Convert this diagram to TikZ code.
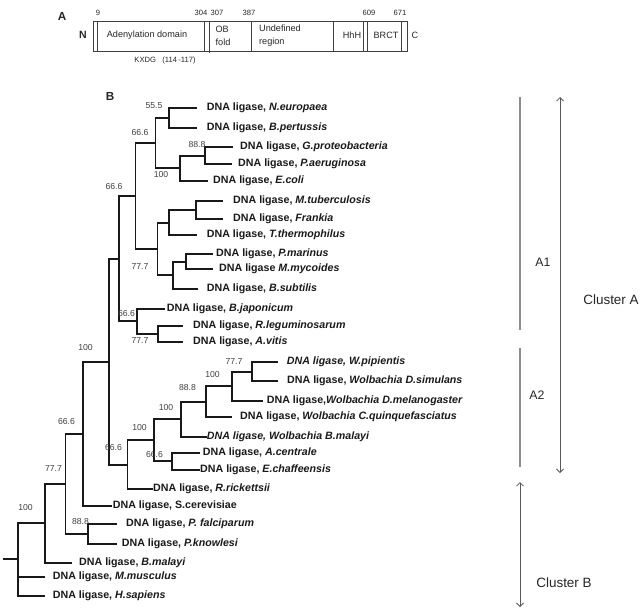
\documentclass[tikz,border=0pt]{standalone}
\usepackage{fontspec}
\setmainfont{Liberation Sans}
\usetikzlibrary{arrows.meta}

\begin{document}
\begin{tikzpicture}[
  x=0.03cm, y=-0.03cm,
  branch/.style={line width=1.7pt, black!90},
  leaf/.style={anchor=west, inner sep=0pt, text=black!90,
    font=\bfseries\fontsize{9.1}{11}\selectfont},
  boot/.style={inner sep=0pt, text=black!75, font=\fontsize{7.4}{9}\selectfont},
  domtxt/.style={inner sep=0pt, text=black!85, align=left,
    font=\fontsize{7.8}{11}\selectfont},
  posnum/.style={inner sep=0pt, text=black!85, font=\fontsize{6.5}{8}\selectfont},
  panel/.style={inner sep=0pt, text=black!85, font=\bfseries\fontsize{10}{12}\selectfont},
  barline/.style={draw=black!75, line width=0.8pt},
  subline/.style={draw=black!45, line width=0.9pt},
  clusterarrow/.style={draw=black!65, line width=0.7pt,
    {Straight Barb[length=3pt,width=6pt]}-{Straight Barb[length=3pt,width=6pt]}},
  clustertxt/.style={inner sep=0pt, text=black!85, font=\fontsize{11.5}{13}\selectfont}
]
  \useasboundingbox (0,0) rectangle (644,610);

  % panel A: domain map
  \node[panel] (lblA) at (62,16) {A};
  \node[panel, font=\bfseries\fontsize{9}{11}\selectfont] (termN) at (83,35) {N};
  \node[domtxt] (termC) at (415,35) {C};
  \draw[barline] (93,21) rectangle (407,51);
  \draw[barline] (97.7,21) -- (97.7,51) (204.3,21) -- (204.3,51)
    (209.3,21) -- (209.3,53) (251,21) -- (251,51) (333.3,21) -- (333.3,51)
    (363.3,21) -- (363.3,51) (367.3,21) -- (367.3,51) (401.7,21) -- (401.7,51);
  \node[posnum] (p9) at (98,13) {9};
  \node[posnum] (p304) at (201,13) {304};
  \node[posnum] (p307) at (217,13) {307};
  \node[posnum] (p387) at (249,13) {387};
  \node[posnum] (p609) at (369,13) {609};
  \node[posnum] (p671) at (400,13) {671};
  \node[domtxt] (adenyl) at (147,35) {Adenylation domain};
  \node[domtxt] (obfold) at (223,35.5) {OB\\fold};
  \node[domtxt] (undef) at (280,35.5) {Undefined\\region};
  \node[domtxt] (hhh) at (352,35) {HhH};
  \node[domtxt] (brct) at (386,35) {BRCT};
  \node[posnum] (motif) at (165,61) {KXDG\ \ \ (114\,-117)};

  % panel B: tree
  \node[panel] (lblB) at (110,96) {B};

  % internal nodes
  \coordinate (root0) at (3.3,559);
  \coordinate (root) at (18.3,559);
  \coordinate (nB) at (45,523);
  \coordinate (nC) at (65.5,484);
  \coordinate (nP) at (88.3,534);
  \coordinate (nD) at (83.3,433.5);
  \coordinate (nE) at (109,361.5);
  \coordinate (nF) at (127.5,464.5);
  \coordinate (nG) at (154,440);
  \coordinate (nI) at (171.7,461.4);
  \coordinate (nH) at (180.7,419);
  \coordinate (nJ) at (205.7,401.5);
  \coordinate (nK) at (231.7,386);
  \coordinate (nL) at (251.7,371.5);
  \coordinate (n11) at (119,258.5);
  \coordinate (n12) at (136.7,321);
  \coordinate (n13) at (158.3,334);
  \coordinate (n10) at (135.5,196);
  \coordinate (n4) at (155.5,143);
  \coordinate (n1) at (169,118);
  \coordinate (n3) at (180,168);
  \coordinate (n2) at (205,155.5);
  \coordinate (n7) at (157.5,249);
  \coordinate (n6) at (169.3,222.5);
  \coordinate (n5) at (196,210);
  \coordinate (n9) at (173,275);
  \coordinate (n8) at (186,261.5);

  % leaf tips
  \coordinate (tNeur) at (196.7,108);
  \coordinate (tBper) at (196.7,128);
  \coordinate (tGpro) at (233,147);
  \coordinate (tPaer) at (232,164);
  \coordinate (tEcol) at (208,181);
  \coordinate (tMtub) at (223,201);
  \coordinate (tFran) at (223,219);
  \coordinate (tTthe) at (197,235);
  \coordinate (tPmar) at (213,254);
  \coordinate (tMmyc) at (213,269);
  \coordinate (tBsub) at (198,289);
  \coordinate (tBjap) at (165,308.5);
  \coordinate (tRleg) at (183.3,326);
  \coordinate (tAvit) at (183.3,342);
  \coordinate (tWpip) at (278.3,362);
  \coordinate (tDsim) at (278.3,381);
  \coordinate (tDmel) at (263,401);
  \coordinate (tCqui) at (231.7,417);
  \coordinate (tWbma) at (206.7,436.5);
  \coordinate (tAcen) at (200,452.7);
  \coordinate (tEcha) at (200,470);
  \coordinate (tRric) at (153,489);
  \coordinate (tScer) at (112,505.5);
  \coordinate (tPfal) at (116.7,524);
  \coordinate (tPkno) at (116.7,544);
  \coordinate (tBmal) at (71.7,563);
  \coordinate (tMmus) at (45,577);
  \coordinate (tHsap) at (45,596);

  % branches
  \draw[branch] (root0) -- (root);
  \draw[branch] (root) |- (nB) (root) |- (tMmus) (root) |- (tHsap);
  \draw[branch] (nB) |- (nC) (nB) |- (tBmal);
  \draw[branch] (nC) |- (nD) (nC) |- (nP);
  \draw[branch] (nP) |- (tPfal) (nP) |- (tPkno);
  \draw[branch] (nD) |- (nE) (nD) |- (tScer);
  \draw[branch] (nE) |- (n11) (nE) |- (nF);
  \draw[branch] (nF) |- (nG) (nF) |- (tRric);
  \draw[branch] (nG) |- (nH) (nG) |- (nI);
  \draw[branch] (nI) |- (tAcen) (nI) |- (tEcha);
  \draw[branch] (nH) |- (nJ) (nH) |- (tWbma);
  \draw[branch] (nJ) |- (nK) (nJ) |- (tCqui);
  \draw[branch] (nK) |- (nL) (nK) |- (tDmel);
  \draw[branch] (nL) |- (tWpip) (nL) |- (tDsim);
  \draw[branch] (n11) |- (n10) (n11) |- (n12);
  \draw[branch] (n12) |- (tBjap) (n12) |- (n13);
  \draw[branch] (n13) |- (tRleg) (n13) |- (tAvit);
  \draw[branch] (n10) |- (n4) (n10) |- (n7);
  \draw[branch] (n4) |- (n1) (n4) |- (n3);
  \draw[branch] (n1) |- (tNeur) (n1) |- (tBper);
  \draw[branch] (n3) |- (n2) (n3) |- (tEcol);
  \draw[branch] (n2) |- (tGpro) (n2) |- (tPaer);
  \draw[branch] (n7) |- (n6) (n7) |- (n9);
  \draw[branch] (n6) |- (n5) (n6) |- (tTthe);
  \draw[branch] (n5) |- (tMtub) (n5) |- (tFran);
  \draw[branch] (n9) |- (n8) (n9) |- (tBsub);
  \draw[branch] (n8) |- (tPmar) (n8) |- (tMmyc);

  % leaf labels
  \node[leaf] (Neur) at (206.7,108) {DNA ligase, \textit{N.europaea}};
  \node[leaf] (Bper) at (206.7,128) {DNA ligase, \textit{B.pertussis}};
  \node[leaf] (Gpro) at (240,147) {DNA ligase, \textit{G.proteobacteria}};
  \node[leaf] (Paer) at (238,164) {DNA ligase, \textit{P.aeruginosa}};
  \node[leaf] (Ecol) at (213,181) {DNA ligase, \textit{E.coli}};
  \node[leaf] (Mtub) at (233,201) {DNA ligase, \textit{M.tuberculosis}};
  \node[leaf] (Fran) at (233,219) {DNA ligase, \textit{Frankia}};
  \node[leaf] (Tthe) at (206.7,235) {DNA ligase, \textit{T.thermophilus}};
  \node[leaf] (Pmar) at (216,254) {DNA ligase, \textit{P.marinus}};
  \node[leaf] (Mmyc) at (219,269) {DNA ligase \textit{M.mycoides}};
  \node[leaf] (Bsub) at (206.7,289) {DNA ligase, \textit{B.subtilis}};
  \node[leaf] (Bjap) at (166.7,308.5) {DNA ligase, \textit{B.japonicum}};
  \node[leaf] (Rleg) at (193,326) {DNA ligase, \textit{R.leguminosarum}};
  \node[leaf] (Avit) at (193,342) {DNA ligase, \textit{A.vitis}};
  \node[leaf] (Wpip) at (286.7,362) {\textit{DNA ligase, W.pipientis}};
  \node[leaf] (Dsim) at (287,381) {DNA ligase, \textit{Wolbachia D.simulans}};
  \node[leaf] (Dmel) at (266.7,401) {DNA ligase,\textit{Wolbachia D.melanogaster}};
  \node[leaf] (Cqui) at (240,417) {DNA ligase, \textit{Wolbachia C.quinquefasciatus}};
  \node[leaf] (Wbma) at (206.7,436.5) {\textit{DNA ligase, Wolbachia B.malayi}};
  \node[leaf] (Acen) at (202.7,452.7) {DNA ligase, \textit{A.centrale}};
  \node[leaf] (Echa) at (200,470) {DNA ligase, \textit{E.chaffeensis}};
  \node[leaf] (Rric) at (153,489) {DNA ligase, \textit{R.rickettsii}};
  \node[leaf] (Scer) at (112.7,505.5) {DNA ligase, S.cerevisiae};
  \node[leaf] (Pfal) at (126,524) {DNA ligase, \textit{P. falciparum}};
  \node[leaf] (Pkno) at (121.7,544) {DNA ligase, \textit{P.knowlesi}};
  \node[leaf] (Bmal) at (79,563) {DNA ligase, \textit{B.malayi}};
  \node[leaf] (Mmus) at (52.7,577) {DNA ligase, \textit{M.musculus}};
  \node[leaf] (Hsap) at (52.7,596) {DNA ligase, \textit{H.sapiens}};

  % bootstrap values
  \node[boot] (b1) at (154,106) {55.5};
  \node[boot] (b2) at (197,145) {88.8};
  \node[boot] (b3) at (161,175) {100};
  \node[boot] (b4) at (140,133) {66.6};
  \node[boot] (b10) at (114,187) {66.6};
  \node[boot] (b7) at (140,267) {77.7};
  \node[boot] (b12) at (126.5,314) {66.6};
  \node[boot] (b13) at (140,341) {77.7};
  \node[boot] (bE) at (85.5,348) {100};
  \node[boot] (bL) at (234,361.7) {77.7};
  \node[boot] (bK) at (212.5,374.3) {100};
  \node[boot] (bJ) at (187.5,387.7) {88.8};
  \node[boot] (bH) at (166,408) {100};
  \node[boot] (bG) at (139.5,428) {100};
  \node[boot] (bF) at (113.5,448) {66.6};
  \node[boot] (bI) at (154.5,455) {66.6};
  \node[boot] (bC) at (66.5,421.7) {66.6};
  \node[boot] (bB) at (53.5,468.3) {77.7};
  \node[boot] (bP) at (80.5,521.7) {88.8};
  \node[boot] (broot) at (25.5,508) {100};

  % clusters
  \coordinate (a1top) at (520,97);
  \coordinate (a1bot) at (520,330);
  \coordinate (a2top) at (520,348);
  \coordinate (a2bot) at (520,467);
  \coordinate (catop) at (560,97);
  \coordinate (cabot) at (560,473);
  \coordinate (cbtop) at (520,482);
  \coordinate (cbbot) at (520,607);
  \draw[subline] (a1top) -- (a1bot);
  \draw[subline] (a2top) -- (a2bot);
  \draw[clusterarrow] (catop) -- (cabot);
  \draw[clusterarrow] (cbtop) -- (cbbot);
  \node[clustertxt, font=\fontsize{10.5}{12}\selectfont] (A1) at (543,262) {A1};
  \node[clustertxt, font=\fontsize{10.5}{12}\selectfont] (A2) at (537,395) {A2};
  \node[clustertxt] (clA) at (611,300) {Cluster A};
  \node[clustertxt] (clB) at (564,583) {Cluster B};
\end{tikzpicture}
\end{document}
